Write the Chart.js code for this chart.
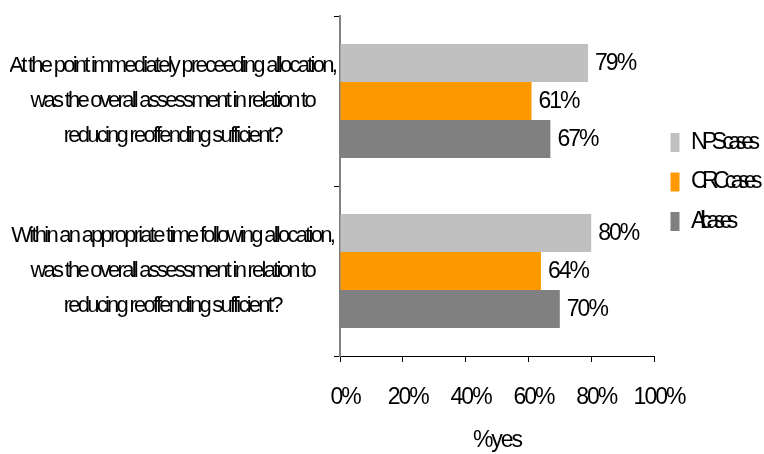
<!DOCTYPE html>
<html>
<head>
<meta charset="utf-8">
<script src="https://cdn.jsdelivr.net/npm/chart.js@4/dist/chart.umd.min.js"></script>
<style>
  html, body { margin: 0; padding: 0; background: #ffffff; }
  #wrap { width: 764px; height: 454px; }
</style>
</head>
<body>
<div id="wrap"><canvas id="c" width="764" height="454"></canvas></div>
<script>
const categories = [
  ["At the point immediately preceeding allocation,", "was the overall assessment in relation to", "reducing reoffending sufficient?"],
  ["Within an appropriate time following allocation,", "was the overall assessment in relation to", "reducing reoffending sufficient?"]
];
const seriesNames = ["NPS cases", "CRC cases", "All cases"];
const npsValues = [79, 80];
const crcValues = [61, 64];
const allValues = [67, 70];
const xTickValues = [0, 20, 40, 60, 80, 100];
const xAxisTitle = "%yes";

const FONT = "'Liberation Sans', Arial, sans-serif";
const LS_DEFAULT = "-2px";
const LS_Y = "-2.75px";
const LS_LEGEND = "-5.6px";
const LEGEND_W = 110;
const Y_AXIS_W = 330;
const X_AXIS_H = 98;

function wrapLS(obj, name, ls, after, shift) {
  const orig = obj[name];
  obj[name] = function (...args) {
    const c = this.ctx;
    const prev = c.letterSpacing;
    c.letterSpacing = ls;
    if (shift) { c.save(); c.translate(shift[0], shift[1]); }
    try { return orig.apply(this, args); }
    finally {
      if (shift) c.restore();
      c.letterSpacing = prev;
      if (after) after.call(this);
    }
  };
}

const spacingPlugin = {
  id: 'spacing',
  beforeUpdate(chart) {
    chart.ctx.letterSpacing = LS_DEFAULT;
  },
  beforeLayout(chart) {
    chart.ctx.letterSpacing = LS_DEFAULT;
    const y = chart.scales.y;
    if (y && !y._lsWrapped) {
      wrapLS(y, 'update', LS_Y);
      wrapLS(y, 'drawLabels', LS_Y);
      y._lsWrapped = true;
    }
    const lg = chart.legend;
    if (lg && !lg._lsWrapped) {
      wrapLS(lg, 'fit', LS_LEGEND, function () { this.width = LEGEND_W; });
      wrapLS(lg, 'draw', LS_LEGEND, null, [0, -4]);
      lg._lsWrapped = true;
    }
  },
  beforeDraw(chart) {
    chart.ctx.letterSpacing = LS_DEFAULT;
  }
};

const valueLabels = {
  id: 'valueLabels',
  afterDatasetsDraw(chart) {
    const ctx = chart.ctx;
    ctx.save();
    ctx.letterSpacing = LS_DEFAULT;
    ctx.font = "23px " + FONT;
    ctx.fillStyle = "#000000";
    ctx.textAlign = "left";
    ctx.textBaseline = "middle";
    chart.data.datasets.forEach((ds, di) => {
      const meta = chart.getDatasetMeta(di);
      meta.data.forEach((el, i) => {
        ctx.fillText(ds.data[i] + "%", el.x + 7, el.y + 1);
      });
    });
    ctx.restore();
  }
};

new Chart(document.getElementById('c'), {
  type: 'bar',
  data: {
    labels: categories,
    datasets: [
      { label: seriesNames[0], data: npsValues, backgroundColor: '#C0C0C0', borderWidth: 0 },
      { label: seriesNames[1], data: crcValues, backgroundColor: '#FF9900', borderWidth: 0 },
      { label: seriesNames[2], data: allValues, backgroundColor: '#808080', borderWidth: 0 }
    ]
  },
  options: {
    indexAxis: 'y',
    responsive: false,
    animation: false,
    devicePixelRatio: 1,
    layout: { padding: { left: 10, top: 16, right: 0, bottom: 0 } },
    datasets: { bar: { categoryPercentage: 0.67, barPercentage: 1.0 } },
    plugins: {
      legend: {
        position: 'right',
        align: 'center',
        fullSize: false,
        labels: {
          boxWidth: 9,
          boxHeight: 19,
          padding: 16.5,
          color: '#000000',
          font: { size: 23, family: FONT }
        }
      },
      tooltip: { enabled: false }
    },
    scales: {
      x: {
        min: 0,
        max: 100,
        afterBuildTicks(scale) { scale.ticks = xTickValues.map(v => ({ value: v })); },
        afterFit(scale) { scale.height = X_AXIS_H; },
        ticks: {
          callback: (v) => v + '%',
          color: '#000000',
          padding: 22,
          labelOffset: 5,
          font: { size: 23, family: FONT }
        },
        grid: { drawOnChartArea: false, color: '#000000', tickLength: 6, tickWidth: 1 },
        border: { display: true, color: '#000000', width: 1 },
        title: {
          display: true,
          text: xAxisTitle,
          color: '#000000',
          padding: { top: 0, bottom: 0 },
          font: { size: 23, family: FONT }
        }
      },
      y: {
        afterFit(scale) {
          scale.width = Y_AXIS_W;
          scale.paddingTop = 0;
          scale.paddingBottom = 0;
        },
        ticks: {
          color: '#000000',
          crossAlign: 'center',
          autoSkip: false,
          padding: -1,
          font: { size: 22, family: FONT, lineHeight: 1.6 }
        },
        grid: { drawOnChartArea: false, offset: true, color: '#000000', tickLength: 6, tickWidth: 1 },
        border: { display: true, color: '#808080', width: 2 }
      }
    }
  },
  plugins: [spacingPlugin, valueLabels]
});
</script>
</body>
</html>
